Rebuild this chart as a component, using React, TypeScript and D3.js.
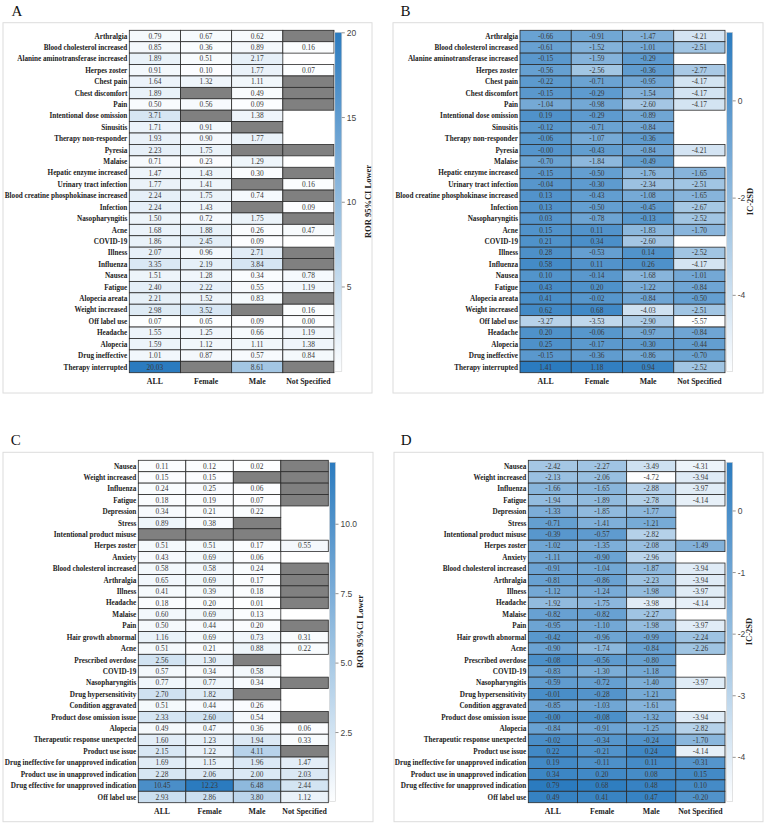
import React from "react";
import * as d3 from "d3";

type Cell = number | "G" | null;

const COLUMNS = ["ALL", "Female", "Male", "Not Specified"];

const rowsAB = [
  "Arthralgia", "Blood cholesterol increased", "Alanine aminotransferase increased", "Herpes zoster",
  "Chest pain", "Chest discomfort", "Pain", "Intentional dose omission", "Sinusitis",
  "Therapy non-responder", "Pyresia", "Malaise", "Hepatic enzyme increased", "Urinary tract infection",
  "Blood creatine phosphokinase increased", "Infection", "Nasopharyngitis", "Acne", "COVID-19",
  "Illness", "Influenza", "Nausea", "Fatigue", "Alopecia areata", "Weight increased", "Off label use",
  "Headache", "Alopecia", "Drug ineffective", "Therapy interrupted",
];

const valuesA: Cell[][] = [
  [0.79, 0.67, 0.62, "G"],
  [0.85, 0.36, 0.89, 0.16],
  [1.89, 0.51, 2.17, null],
  [0.91, 0.10, 1.77, 0.07],
  [1.64, 1.32, 1.11, "G"],
  [1.89, "G", 0.49, "G"],
  [0.50, 0.56, 0.09, "G"],
  [3.71, "G", 1.38, null],
  [1.71, 0.91, "G", null],
  [1.93, 0.90, 1.77, null],
  [2.23, 1.75, "G", "G"],
  [0.71, 0.23, 1.29, null],
  [1.47, 1.43, 0.30, "G"],
  [1.77, 1.41, "G", 0.16],
  [2.24, 1.75, 0.74, "G"],
  [2.24, 1.43, "G", 0.09],
  [1.50, 0.72, 1.75, "G"],
  [1.68, 1.88, 0.26, 0.47],
  [1.86, 2.45, 0.09, null],
  [2.07, 0.96, 2.71, "G"],
  [3.35, 2.19, 3.84, "G"],
  [1.51, 1.28, 0.34, 0.78],
  [2.40, 2.22, 0.55, 1.19],
  [2.21, 1.52, 0.83, "G"],
  [2.98, 3.52, "G", 0.16],
  [0.07, 0.05, 0.09, 0.00],
  [1.55, 1.25, 0.66, 1.19],
  [1.59, 1.12, 1.11, 1.38],
  [1.01, 0.87, 0.57, 0.84],
  [20.03, "G", 8.61, "G"],
];

const valuesB: Cell[][] = [
  [-0.66, -0.91, -1.47, -4.21],
  [-0.61, -1.52, -1.01, -2.51],
  [-0.15, -1.59, -0.29, null],
  [-0.56, -2.56, -0.36, -2.77],
  [-0.22, -0.71, -0.95, -4.17],
  [-0.15, -0.29, -1.54, -4.17],
  [-1.04, -0.98, -2.60, -4.17],
  [0.19, -0.29, -0.89, null],
  [-0.12, -0.71, -0.84, null],
  [-0.06, -1.07, -0.36, null],
  [-0.001, -0.43, -0.84, -4.21],
  [-0.70, -1.84, -0.49, null],
  [-0.15, -0.50, -1.76, -1.65],
  [-0.04, -0.30, -2.34, -2.51],
  [0.13, -0.43, -1.08, -1.65],
  [0.13, -0.50, -0.45, -2.67],
  [0.03, -0.78, -0.13, -2.52],
  [0.15, 0.11, -1.83, -1.70],
  [0.21, 0.34, -2.60, null],
  [0.28, -0.53, 0.14, -2.52],
  [0.58, 0.11, 0.26, -4.17],
  [0.10, -0.14, -1.68, -1.01],
  [0.43, 0.20, -1.22, -0.84],
  [0.41, -0.02, -0.84, -0.50],
  [0.62, 0.68, -4.03, -2.51],
  [-3.27, -3.53, -2.90, -5.57],
  [0.20, -0.06, -0.97, -0.84],
  [0.25, -0.17, -0.30, -0.44],
  [-0.15, -0.36, -0.86, -0.70],
  [1.41, 1.18, 0.94, -2.52],
];

const rowsCD = [
  "Nausea", "Weight increased", "Influenza", "Fatigue", "Depression", "Stress",
  "Intentional product misuse", "Herpes zoster", "Anxiety", "Blood cholesterol increased",
  "Arthralgia", "Illness", "Headache", "Malaise", "Pain", "Hair growth abnormal", "Acne",
  "Prescribed overdose", "COVID-19", "Nasopharyngitis", "Drug hypersensitivity",
  "Condition aggravated", "Product dose omission issue", "Alopecia",
  "Therapeutic response unexpected", "Product use issue",
  "Drug ineffective for unapproved indication", "Product use in unapproved indication",
  "Drug effective for unapproved indication", "Off label use",
];

const valuesC: Cell[][] = [
  [0.11, 0.12, 0.02, "G"],
  [0.15, 0.15, "G", "G"],
  [0.24, 0.25, 0.06, "G"],
  [0.18, 0.19, 0.07, "G"],
  [0.34, 0.21, 0.22, null],
  [0.89, 0.38, "G", null],
  ["G", "G", "G", null],
  [0.51, 0.51, 0.17, 0.55],
  [0.43, 0.69, 0.06, null],
  [0.58, 0.58, 0.24, "G"],
  [0.65, 0.69, 0.17, "G"],
  [0.41, 0.39, 0.18, "G"],
  [0.18, 0.20, 0.01, "G"],
  [0.60, 0.69, 0.13, null],
  [0.50, 0.44, 0.20, "G"],
  [1.16, 0.69, 0.73, 0.31],
  [0.51, 0.21, 0.88, 0.22],
  [2.56, 1.30, "G", null],
  [0.57, 0.34, 0.58, null],
  [0.77, 0.77, 0.34, "G"],
  [2.70, 1.82, "G", null],
  [0.51, 0.44, 0.26, null],
  [2.33, 2.60, 0.54, "G"],
  [0.49, 0.47, 0.36, 0.06],
  [1.60, 1.23, 1.94, 0.33],
  [2.15, 1.22, 4.11, "G"],
  [1.69, 1.15, 1.96, 1.47],
  [2.28, 2.06, 2.00, 2.03],
  [10.45, 12.23, 6.48, 2.44],
  [2.93, 2.86, 3.80, 1.12],
];

const valuesD: Cell[][] = [
  [-2.42, -2.27, -3.49, -4.31],
  [-2.13, -2.06, -4.72, -3.94],
  [-1.66, -1.65, -2.88, -3.97],
  [-1.94, -1.89, -2.78, -4.14],
  [-1.33, -1.85, -1.77, null],
  [-0.71, -1.41, -1.21, null],
  [-0.39, -0.57, -2.82, null],
  [-1.02, -1.35, -2.08, -1.49],
  [-1.11, -0.90, -2.96, null],
  [-0.91, -1.04, -1.87, -3.94],
  [-0.81, -0.86, -2.23, -3.94],
  [-1.12, -1.24, -1.98, -3.97],
  [-1.92, -1.75, -3.98, -4.14],
  [-0.82, -0.82, -2.27, null],
  [-0.95, -1.10, -1.98, -3.97],
  [-0.42, -0.96, -0.99, -2.24],
  [-0.90, -1.74, -0.84, -2.26],
  [-0.08, -0.56, -0.80, null],
  [-0.83, -1.30, -1.18, null],
  [-0.59, -0.72, -1.40, -3.97],
  [-0.01, -0.28, -1.21, null],
  [-0.85, -1.03, -1.61, null],
  [-0.001, -0.08, -1.32, -3.94],
  [-0.84, -0.91, -1.25, -2.82],
  [-0.02, -0.34, -0.24, -1.70],
  [0.22, -0.21, 0.24, -4.14],
  [0.19, -0.11, 0.11, -0.31],
  [0.34, 0.20, 0.08, 0.15],
  [0.79, 0.68, 0.48, 0.10],
  [0.49, 0.41, 0.47, -0.20],
];

const ticksA = [5, 10, 15, 20];
const ticksB = [0, -2, -4];
const ticksC = [2.5, 5.0, 7.5, 10.0];
const ticksD = [0, -1, -2, -3, -4];

const titleROR = "ROR 95%CI Lower";
const titleIC = "IC-2SD";

const SERIF = "'Liberation Serif', 'Times New Roman', serif";
const SANS = "'Liberation Sans', Arial, sans-serif";

interface PanelCfg {
  id: string;
  letter: string;
  rows: string[];
  values: Cell[][];
  ticks: number[];
  tickFmt: (v: number) => string;
  title: string;
  box: [number, number, number, number];
  x0: number;
  x1: number;
  y0: number;
  y1: number;
  barX: number;
  barW: number;
  titleX: number;
  letterX: number;
  letterY: number;
}

function Panel({ cfg }: { cfg: PanelCfg }) {
  const { rows, values } = cfg;
  const nums = values.flat().filter((v) => typeof v === "number") as number[];
  const [mn, mx] = d3.extent(nums) as [number, number];
  const color = d3
    .scaleLinear<string>()
    .domain([mn, mx])
    .range(["#fdfeff", "#2b7bbf"])
    .interpolate(d3.interpolateRgb);
  const xs = d3.scaleBand<string>().domain(COLUMNS).range([cfg.x0, cfg.x1]);
  const ys = d3.scaleBand<string>().domain(rows).range([cfg.y0, cfg.y1]);
  const barScale = d3.scaleLinear().domain([mn, mx]).range([cfg.y1 - 1, cfg.y0 + 2]);
  const gradId = "grad" + cfg.id;
  const stops = d3.range(0, 1.0001, 0.1);
  const [bx0, by0, bx1, by1] = cfg.box;

  return (
    <g>
      <rect x={bx0} y={by0} width={bx1 - bx0} height={by1 - by0} fill="#fff" stroke="#dcdcdc" strokeWidth={1} />
      <text x={cfg.letterX} y={cfg.letterY} fontFamily={SERIF} fontSize={15} fill="#111" textAnchor="middle">
        {cfg.letter}
      </text>
      <defs>
        <linearGradient id={gradId} x1="0" y1="1" x2="0" y2="0">
          {stops.map((t) => (
            <stop key={t} offset={t} stopColor={color(mn + t * (mx - mn))} />
          ))}
        </linearGradient>
      </defs>
      {rows.map((r, i) =>
        values[i].map((v, j) => {
          if (v === null) return null;
          const x = xs(COLUMNS[j])!;
          const y = ys(r)!;
          return (
            <g key={r + j}>
              <rect
                x={x}
                y={y}
                width={xs.bandwidth()}
                height={ys.bandwidth()}
                fill={v === "G" ? "#808080" : color(v)}
                stroke="#2a2a2a"
                strokeWidth={0.8}
              />
              {v !== "G" && (
                <text
                  x={x + xs.bandwidth() / 2}
                  y={y + ys.bandwidth() / 2}
                  dy="0.35em"
                  textAnchor="middle"
                  fontFamily={SERIF}
                  fontSize={7.4}
                  fill="#3a3a3a"
                >
                  {(v as number).toFixed(2)}
                </text>
              )}
            </g>
          );
        })
      )}
      {rows.map((r) => (
        <text
          key={r}
          x={cfg.x0 - 2}
          y={ys(r)! + ys.bandwidth() / 2}
          dy="0.35em"
          textAnchor="end"
          fontFamily={SERIF}
          fontWeight="bold"
          fontSize={7.2}
          fill="#222"
        >
          {r}
        </text>
      ))}
      {COLUMNS.map((c) => (
        <text
          key={c}
          x={xs(c)! + xs.bandwidth() / 2}
          y={cfg.y1 + 11}
          textAnchor="middle"
          fontFamily={SERIF}
          fontWeight="bold"
          fontSize={7.8}
          fill="#222"
        >
          {c}
        </text>
      ))}
      <rect
        x={cfg.barX}
        y={barScale(mx)}
        width={cfg.barW}
        height={barScale(mn) - barScale(mx)}
        fill={`url(#${gradId})`}
        stroke="#d0d0d0"
        strokeWidth={0.6}
      />
      {cfg.ticks.map((t) => (
        <g key={t}>
          <line
            x1={cfg.barX + cfg.barW}
            x2={cfg.barX + cfg.barW + 3}
            y1={barScale(t)}
            y2={barScale(t)}
            stroke="#666"
            strokeWidth={0.7}
          />
          <text
            x={cfg.barX + cfg.barW + 5}
            y={barScale(t)}
            dy="0.35em"
            fontFamily={SANS}
            fontSize={8.5}
            fill="#444"
          >
            {cfg.tickFmt(t)}
          </text>
        </g>
      ))}
      <text
        transform={`translate(${cfg.titleX},${(cfg.y0 + cfg.y1) / 2}) rotate(-90)`}
        dy="0.35em"
        textAnchor="middle"
        fontFamily={SERIF}
        fontWeight="bold"
        fontSize={8.5}
        fill="#222"
      >
        {cfg.title}
      </text>
    </g>
  );
}

const fmtInt = (v: number) => d3.format("d")(v).replace("−", "-");
const fmt1 = (v: number) => v.toFixed(1);

export default function App() {
  const panels: PanelCfg[] = [
    {
      id: "A", letter: "A", rows: rowsAB, values: valuesA, ticks: ticksA, tickFmt: fmtInt, title: titleROR,
      box: [3, 22.7, 372, 393], x0: 129.3, x1: 334, y0: 30.3, y1: 372.7, barX: 334.8, barW: 7,
      titleX: 368.5, letterX: 17, letterY: 15.5,
    },
    {
      id: "B", letter: "B", rows: rowsAB, values: valuesB, ticks: ticksB, tickFmt: fmtInt, title: titleIC,
      box: [393, 22.7, 763, 393], x0: 520, x1: 725, y0: 30.3, y1: 372.7, barX: 726.7, barW: 6,
      titleX: 750.5, letterX: 405.5, letterY: 15.5,
    },
    {
      id: "C", letter: "C", rows: rowsCD, values: valuesC, ticks: ticksC, tickFmt: fmt1, title: titleROR,
      box: [3, 452.3, 373, 821.7], x0: 138.3, x1: 328.3, y0: 460.3, y1: 802.7, barX: 329.5, barW: 6,
      titleX: 360, letterX: 15.7, letterY: 445,
    },
    {
      id: "D", letter: "D", rows: rowsCD, values: valuesD, ticks: ticksD, tickFmt: fmtInt, title: titleIC,
      box: [394, 452.3, 763, 821.7], x0: 528.3, x1: 725, y0: 460.3, y1: 802.7, barX: 726.7, barW: 6,
      titleX: 749.3, letterX: 406.2, letterY: 445,
    },
  ];
  return (
    <svg
      width={767}
      height={826}
      viewBox="0 0 767 826"
      style={{ position: "absolute", left: 0, top: 0, background: "#fff" }}
    >
      <rect x={0} y={0} width={767} height={826} fill="#fff" />
      {panels.map((p) => (
        <Panel key={p.id} cfg={p} />
      ))}
    </svg>
  );
}
